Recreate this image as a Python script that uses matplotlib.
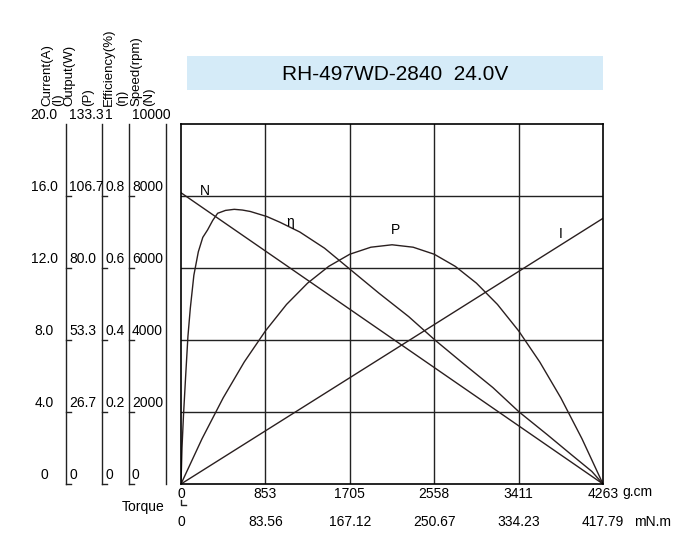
import matplotlib
matplotlib.use("Agg")
import matplotlib.pyplot as plt
from matplotlib.transforms import blended_transform_factory
from matplotlib.patches import Rectangle

title = "RH-497WD-2840  24.0V"
torque_ticks = [0, 853, 1705, 2558, 3411, 4263]
torque_mnm = ["0", "83.56", "167.12", "250.67", "334.23", "417.79"]
current_labels = ["0", "4.0", "8.0", "12.0", "16.0", "20.0"]
output_labels = ["0", "26.7", "53.3", "80.0", "106.7", "133.3"]
eff_labels = ["0", "0.2", "0.4", "0.6", "0.8", "1"]
speed_labels = ["0", "2000", "4000", "6000", "8000", "10000"]

speed_T = [0, 4263]
speed_N = [8090, 0]
current_T = [0, 4263]
current_I = [0.0, 14.76]
eff_T = [0, 10, 25, 47, 70, 94, 130, 175, 220, 269, 320, 370, 450, 538, 620, 700, 867, 1000, 1200,
         1450, 1718, 2000, 2300, 2565, 2850, 3150, 3416, 3700, 3950, 4150, 4263]
eff_v = [0, 0.10, 0.19, 0.30, 0.41, 0.488, 0.58, 0.645, 0.685, 0.706, 0.732, 0.752, 0.760, 0.763,
         0.761, 0.757, 0.743, 0.727, 0.70, 0.655, 0.594, 0.53, 0.465, 0.40, 0.335, 0.268, 0.20,
         0.137, 0.08, 0.035, 0]
pow_T = [0, 213, 426, 639, 853, 1066, 1279, 1492, 1705, 1918, 2132, 2345, 2558, 2771, 2984,
         3197, 3411, 3624, 3837, 4050, 4263]
pow_P = [0, 16.8, 31.9, 45.2, 56.7, 66.5, 74.4, 80.6, 85.1, 87.7, 88.6, 87.7, 85.1, 80.6, 74.4,
         66.5, 56.7, 45.2, 31.9, 16.8, 0]

W, H = 700, 550
fig = plt.figure(figsize=(7, 5.5), dpi=100)
plt.rcParams['font.family'] = ['Liberation Sans', 'DejaVu Sans']
ax = fig.add_axes([181/W, 1-484/H, (603-181)/W, (484-124)/H])
ax.set_xlim(0, 4263)
ax.set_ylim(0, 10000)
ax.set_xticks([])
ax.set_yticks([])
for s in ax.spines.values():
    s.set_linewidth(1.2)
for t in torque_ticks[1:-1]:
    ax.axvline(t, color='#222', lw=1)
for v in [2000, 4000, 6000, 8000]:
    ax.axhline(v, color='#222', lw=1)

lc = '#2a1f1f'
ax.plot(speed_T, speed_N, color=lc, lw=1)
ax.plot(current_T, [i * 500 for i in current_I], color=lc, lw=1)
ax.plot(eff_T, [e * 10000 for e in eff_v], color=lc, lw=1)
ax.plot(pow_T, [p * 75 for p in pow_P], color=lc, lw=1)
ax.text(242, 8140, "N", fontsize=10, ha='center', va='center')
ax.text(1100, 7280, "η", fontsize=10, ha='center', va='center')
ax.text(2162, 7060, "P", fontsize=10, ha='center', va='center')
ax.text(3838, 6940, "I", fontsize=10, ha='center', va='center')

# title box
fig.patches.append(Rectangle((187/W, 1-90/H), (603-187)/W, 34/H, transform=fig.transFigure,
                             facecolor='#d5ebf8', edgecolor='none'))
fig.text(395/W, 1-74/H, title, fontsize=15, ha='center', va='center')

# left scales
bt = blended_transform_factory(fig.transFigure, ax.transData)
levels = [0, 2000, 4000, 6000, 8000, 10000]
for i, v in enumerate(levels):
    fig.text(44/W, v + 60, current_labels[i], transform=bt, ha='center', va='bottom', fontsize=10)
for lx, labs in [(66, output_labels), (102, eff_labels), (129, speed_labels)]:
    fig.add_artist(plt.Line2D([lx/W, lx/W], [0, 10000], transform=bt, color='#222', lw=1))
    for i, v in enumerate(levels):
        if i < 5:
            fig.add_artist(plt.Line2D([lx/W, (lx+5)/W], [v, v], transform=bt, color='#222', lw=1))
        fig.text((lx+3)/W, v + 60, labs[i], transform=bt, ha='left', va='bottom', fontsize=10)
fig.add_artist(plt.Line2D([166/W, 166/W], [0, 10000], transform=bt, color='#222', lw=1))

for x, s in [(47, "Current(A)"), (58, "(I)"), (69, "Output(W)"), (88, "(P)"),
             (109, "Efficiency(%)"), (122, "(η)"), (136, "Speed(rpm)"), (149, "(N)")]:
    fig.text(x/W, 1-106/H, s, rotation=90, ha='center', va='bottom', fontsize=9.5)

# bottom axis labels
bx = blended_transform_factory(ax.transData, fig.transFigure)
for t, s in zip(torque_ticks, [str(t) for t in torque_ticks]):
    fig.text(t, 1-494/H, s, transform=bx, ha='center', va='center', fontsize=10)
for t, s in zip(torque_ticks, torque_mnm):
    fig.text(t, 1-522/H, s, transform=bx, ha='center', va='center', fontsize=10)
fig.add_artist(plt.Line2D([181/W, 181/W, 186/W], [1-500/H, 1-505/H, 1-505/H], transform=fig.transFigure, color='#222', lw=1))
fig.text(622/W, 1-492/H, "g.cm", fontsize=10, ha='left', va='center')
fig.text(634/W, 1-522/H, "mN.m", fontsize=10, ha='left', va='center')
fig.text(143/W, 1-507/H, "Torque", fontsize=10, ha='center', va='center')

fig.savefig("out.png", dpi=100)
